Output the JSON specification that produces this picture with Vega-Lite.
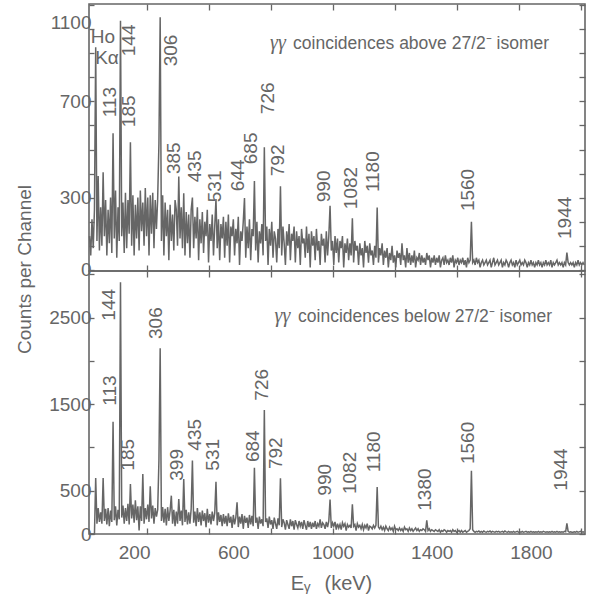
{
"$schema": "https://vega.github.io/schema/vega-lite/v6.json",
"background": "white",
"padding": {"left": 14, "top": 2, "right": 3, "bottom": 5},
"config": {
  "view": {"stroke": "#666666", "strokeWidth": 1.6},
  "font": "Liberation Sans",
  "axis": {"domain": false, "grid": false, "format": "d", "labelFont": "Liberation Sans", "labelFontSize": 19, "labelColor": "#666666", "tickColor": "#666666", "tickWidth": 1.3, "labelOverlap": false, "labelFlush": false, "titleColor": "#666666", "titleFont": "Liberation Sans", "titleFontWeight": "normal", "titleFontSize": 19}
},
"datasets": {
"s": [
{"e":20,"a":140,"b":0},{"e":25,"a":60,"b":0},{"e":30,"a":210,"b":0},{"e":35,"a":90,"b":0},{"e":40,"a":250,"b":0},{"e":45,"a":925,"b":647},{"e":50,"a":120,"b":120},{"e":55,"a":390,"b":300},{"e":60,"a":80,"b":140},{"e":65,"a":260,"b":250},
{"e":70,"a":100,"b":120},{"e":75,"a":405,"b":647},{"e":80,"a":140,"b":150},{"e":85,"a":290,"b":290},{"e":90,"a":60,"b":110},{"e":95,"a":250,"b":300},{"e":100,"a":110,"b":90},{"e":105,"a":300,"b":270},{"e":110,"a":70,"b":140},{"e":115,"a":568,"b":1298},
{"e":120,"a":130,"b":160},{"e":125,"a":330,"b":320},{"e":130,"a":50,"b":100},{"e":135,"a":260,"b":280},{"e":140,"a":120,"b":170},{"e":145,"a":1035,"b":2910},{"e":150,"a":140,"b":190},{"e":155,"a":280,"b":330},{"e":160,"a":70,"b":120},{"e":165,"a":320,"b":300},
{"e":170,"a":90,"b":150},{"e":175,"a":290,"b":350},{"e":180,"a":150,"b":110},{"e":185,"a":530,"b":578},{"e":190,"a":100,"b":180},{"e":195,"a":310,"b":340},{"e":200,"a":60,"b":130},{"e":205,"a":270,"b":390},{"e":210,"a":130,"b":160},{"e":215,"a":300,"b":320},
{"e":220,"a":80,"b":40},{"e":225,"a":330,"b":320},{"e":230,"a":160,"b":150},{"e":235,"a":280,"b":694},{"e":240,"a":100,"b":120},{"e":245,"a":340,"b":300},{"e":250,"a":140,"b":170},{"e":255,"a":300,"b":340},{"e":260,"a":60,"b":140},{"e":265,"a":310,"b":551},
{"e":270,"a":150,"b":180},{"e":275,"a":320,"b":330},{"e":280,"a":90,"b":120},{"e":285,"a":290,"b":300},{"e":290,"a":170,"b":200},{"e":295,"a":300,"b":280},{"e":300,"a":527,"b":855},{"e":305,"a":1050,"b":2147},{"e":310,"a":120,"b":150},{"e":315,"a":310,"b":310},
{"e":320,"a":60,"b":130},{"e":325,"a":280,"b":290},{"e":330,"a":140,"b":100},{"e":335,"a":250,"b":310},{"e":340,"a":40,"b":150},{"e":345,"a":270,"b":270},{"e":350,"a":120,"b":443},{"e":355,"a":230,"b":120},{"e":360,"a":80,"b":280},{"e":365,"a":290,"b":90},
{"e":370,"a":250,"b":260},{"e":375,"a":100,"b":120},{"e":380,"a":388,"b":405},{"e":385,"a":130,"b":150},{"e":390,"a":260,"b":270},{"e":395,"a":90,"b":100},{"e":400,"a":318,"b":636},{"e":405,"a":60,"b":140},{"e":410,"a":240,"b":280},{"e":415,"a":110,"b":110},
{"e":420,"a":230,"b":250},{"e":425,"a":50,"b":120},{"e":430,"a":250,"b":290},{"e":435,"a":300,"b":848},{"e":440,"a":90,"b":130},{"e":445,"a":220,"b":260},{"e":450,"a":130,"b":90},{"e":455,"a":260,"b":300},{"e":460,"a":40,"b":140},{"e":465,"a":210,"b":250},
{"e":470,"a":110,"b":100},{"e":475,"a":240,"b":270},{"e":480,"a":70,"b":150},{"e":485,"a":200,"b":240},{"e":490,"a":140,"b":80},{"e":495,"a":250,"b":290},{"e":500,"a":30,"b":130},{"e":505,"a":190,"b":230},{"e":510,"a":120,"b":110},{"e":515,"a":230,"b":260},
{"e":520,"a":60,"b":150},{"e":525,"a":180,"b":240},{"e":530,"a":294,"b":605},{"e":535,"a":90,"b":100},{"e":540,"a":210,"b":250},{"e":545,"a":40,"b":140},{"e":550,"a":190,"b":220},{"e":555,"a":130,"b":90},{"e":560,"a":220,"b":230},{"e":565,"a":50,"b":120},
{"e":570,"a":200,"b":210},{"e":575,"a":100,"b":90},{"e":580,"a":230,"b":240},{"e":585,"a":30,"b":130},{"e":590,"a":180,"b":200},{"e":595,"a":140,"b":70},{"e":600,"a":210,"b":220},{"e":605,"a":60,"b":110},{"e":610,"a":170,"b":190},{"e":615,"a":110,"b":366},
{"e":620,"a":220,"b":80},{"e":625,"a":20,"b":200},{"e":630,"a":160,"b":120},{"e":635,"a":120,"b":230},{"e":640,"a":200,"b":60},{"e":645,"a":298,"b":210},{"e":650,"a":50,"b":130},{"e":655,"a":180,"b":190},{"e":660,"a":90,"b":70},{"e":665,"a":210,"b":220},
{"e":670,"a":40,"b":110},{"e":675,"a":170,"b":210},{"e":680,"a":140,"b":90},{"e":685,"a":369,"b":767},{"e":690,"a":80,"b":130},{"e":695,"a":200,"b":190},{"e":700,"a":30,"b":60},{"e":705,"a":160,"b":200},{"e":710,"a":110,"b":120},{"e":715,"a":190,"b":170},
{"e":720,"a":60,"b":90},{"e":725,"a":509,"b":1434},{"e":730,"a":120,"b":140},{"e":735,"a":180,"b":180},{"e":740,"a":20,"b":70},{"e":745,"a":170,"b":200},{"e":750,"a":100,"b":110},{"e":755,"a":200,"b":160},{"e":760,"a":50,"b":60},{"e":765,"a":160,"b":190},
{"e":770,"a":130,"b":120},{"e":775,"a":30,"b":60},{"e":780,"a":170,"b":180},{"e":785,"a":90,"b":100},{"e":790,"a":347,"b":644},{"e":795,"a":60,"b":80},{"e":800,"a":180,"b":170},{"e":805,"a":110,"b":130},{"e":810,"a":20,"b":50},{"e":815,"a":160,"b":160},
{"e":820,"a":100,"b":110},{"e":825,"a":190,"b":60},{"e":830,"a":40,"b":170},{"e":835,"a":150,"b":90},{"e":840,"a":120,"b":150},{"e":845,"a":180,"b":50},{"e":850,"a":30,"b":160},{"e":855,"a":160,"b":110},{"e":860,"a":90,"b":70},{"e":865,"a":140,"b":150},
{"e":870,"a":20,"b":90},{"e":875,"a":170,"b":140},{"e":880,"a":110,"b":60},{"e":885,"a":130,"b":160},{"e":890,"a":50,"b":100},{"e":895,"a":180,"b":50},{"e":900,"a":70,"b":150},{"e":905,"a":150,"b":80},{"e":910,"a":10,"b":140},{"e":915,"a":160,"b":60},
{"e":920,"a":100,"b":130},{"e":925,"a":140,"b":80},{"e":930,"a":40,"b":150},{"e":935,"a":170,"b":60},{"e":940,"a":80,"b":120},{"e":945,"a":120,"b":90},{"e":950,"a":20,"b":170},{"e":955,"a":150,"b":70},{"e":960,"a":100,"b":130},{"e":965,"a":130,"b":110},
{"e":970,"a":30,"b":60},{"e":975,"a":160,"b":140},{"e":980,"a":60,"b":80},{"e":985,"a":140,"b":150},{"e":990,"a":266,"b":397},{"e":995,"a":80,"b":70},{"e":1000,"a":120,"b":130},{"e":1005,"a":20,"b":90},{"e":1010,"a":140,"b":140},{"e":1015,"a":70,"b":50},
{"e":1020,"a":130,"b":120},{"e":1025,"a":30,"b":70},{"e":1030,"a":120,"b":110},{"e":1035,"a":90,"b":50},{"e":1040,"a":140,"b":130},{"e":1045,"a":10,"b":90},{"e":1050,"a":110,"b":120},{"e":1055,"a":70,"b":40},{"e":1060,"a":130,"b":110},{"e":1065,"a":40,"b":80},
{"e":1070,"a":110,"b":100},{"e":1075,"a":60,"b":70},{"e":1080,"a":214,"b":343},{"e":1085,"a":30,"b":90},{"e":1090,"a":120,"b":110},{"e":1095,"a":80,"b":40},{"e":1100,"a":100,"b":120},{"e":1105,"a":20,"b":80},{"e":1110,"a":110,"b":100},{"e":1115,"a":60,"b":60},
{"e":1120,"a":90,"b":110},{"e":1125,"a":10,"b":50},{"e":1130,"a":120,"b":100},{"e":1135,"a":70,"b":70},{"e":1140,"a":100,"b":120},{"e":1145,"a":30,"b":40},{"e":1150,"a":110,"b":90},{"e":1155,"a":60,"b":80},{"e":1160,"a":80,"b":60},{"e":1165,"a":20,"b":100},
{"e":1170,"a":100,"b":70},{"e":1175,"a":50,"b":100},{"e":1180,"a":259,"b":543},{"e":1185,"a":30,"b":80},{"e":1190,"a":90,"b":60},{"e":1195,"a":60,"b":90},{"e":1200,"a":110,"b":50},{"e":1205,"a":20,"b":80},{"e":1210,"a":80,"b":40},{"e":1215,"a":50,"b":90},
{"e":1220,"a":90,"b":60},{"e":1225,"a":10,"b":40},{"e":1230,"a":70,"b":80},{"e":1235,"a":40,"b":50},{"e":1240,"a":100,"b":70},{"e":1245,"a":30,"b":30},{"e":1250,"a":60,"b":90},{"e":1255,"a":10,"b":50},{"e":1260,"a":80,"b":60},{"e":1265,"a":50,"b":40},
{"e":1270,"a":70,"b":70},{"e":1275,"a":20,"b":40},{"e":1280,"a":110,"b":60},{"e":1285,"a":40,"b":30},{"e":1290,"a":60,"b":80},{"e":1295,"a":10,"b":50},{"e":1300,"a":90,"b":60},{"e":1305,"a":30,"b":30},{"e":1310,"a":70,"b":70},{"e":1315,"a":20,"b":40},
{"e":1320,"a":60,"b":60},{"e":1325,"a":30,"b":30},{"e":1330,"a":80,"b":50},{"e":1335,"a":10,"b":70},{"e":1340,"a":50,"b":40},{"e":1345,"a":40,"b":60},{"e":1350,"a":70,"b":30},{"e":1355,"a":20,"b":50},{"e":1360,"a":60,"b":40},{"e":1365,"a":30,"b":60},
{"e":1370,"a":50,"b":50},{"e":1375,"a":20,"b":30},{"e":1380,"a":70,"b":158},{"e":1385,"a":40,"b":40},{"e":1390,"a":60,"b":60},{"e":1395,"a":10,"b":30},{"e":1400,"a":50,"b":50},{"e":1405,"a":30,"b":40},{"e":1410,"a":60,"b":30},{"e":1415,"a":20,"b":50},
{"e":1420,"a":50,"b":40},{"e":1425,"a":30,"b":30},{"e":1430,"a":60,"b":50},{"e":1435,"a":10,"b":20},{"e":1440,"a":40,"b":40},{"e":1445,"a":50,"b":30},{"e":1450,"a":20,"b":50},{"e":1455,"a":60,"b":40},{"e":1460,"a":30,"b":20},{"e":1465,"a":40,"b":40},
{"e":1470,"a":20,"b":30},{"e":1475,"a":50,"b":40},{"e":1480,"a":30,"b":20},{"e":1485,"a":60,"b":50},{"e":1490,"a":10,"b":30},{"e":1495,"a":40,"b":40},{"e":1500,"a":30,"b":20},{"e":1505,"a":50,"b":30},{"e":1510,"a":20,"b":40},{"e":1515,"a":40,"b":20},
{"e":1520,"a":30,"b":40},{"e":1525,"a":50,"b":20},{"e":1530,"a":20,"b":30},{"e":1535,"a":40,"b":40},{"e":1540,"a":10,"b":20},{"e":1545,"a":50,"b":30},{"e":1550,"a":30,"b":40},{"e":1555,"a":40,"b":60},{"e":1560,"a":200,"b":732},{"e":1565,"a":30,"b":50},
{"e":1570,"a":40,"b":30},{"e":1575,"a":20,"b":20},{"e":1580,"a":50,"b":30},{"e":1585,"a":30,"b":25},{"e":1590,"a":40,"b":35},{"e":1595,"a":10,"b":20},{"e":1600,"a":30,"b":30},{"e":1605,"a":40,"b":20},{"e":1610,"a":20,"b":35},{"e":1615,"a":30,"b":25},
{"e":1620,"a":40,"b":20},{"e":1625,"a":20,"b":30},{"e":1630,"a":30,"b":25},{"e":1635,"a":40,"b":35},{"e":1640,"a":10,"b":20},{"e":1645,"a":30,"b":30},{"e":1650,"a":50,"b":25},{"e":1655,"a":20,"b":20},{"e":1660,"a":30,"b":30},{"e":1665,"a":40,"b":25},
{"e":1670,"a":20,"b":30},{"e":1675,"a":30,"b":20},{"e":1680,"a":40,"b":25},{"e":1685,"a":10,"b":30},{"e":1690,"a":30,"b":20},{"e":1695,"a":20,"b":35},{"e":1700,"a":40,"b":25},{"e":1705,"a":30,"b":20},{"e":1710,"a":10,"b":30},{"e":1715,"a":30,"b":20},
{"e":1720,"a":40,"b":25},{"e":1725,"a":20,"b":20},{"e":1730,"a":30,"b":30},{"e":1735,"a":10,"b":20},{"e":1740,"a":40,"b":25},{"e":1745,"a":20,"b":30},{"e":1750,"a":30,"b":20},{"e":1755,"a":40,"b":25},{"e":1760,"a":20,"b":20},{"e":1765,"a":30,"b":30},
{"e":1770,"a":20,"b":20},{"e":1775,"a":40,"b":25},{"e":1780,"a":30,"b":30},{"e":1785,"a":10,"b":20},{"e":1790,"a":30,"b":25},{"e":1795,"a":20,"b":20},{"e":1800,"a":40,"b":30},{"e":1805,"a":20,"b":20},{"e":1810,"a":30,"b":25},{"e":1815,"a":10,"b":20},
{"e":1820,"a":30,"b":25},{"e":1825,"a":20,"b":20},{"e":1830,"a":40,"b":30},{"e":1835,"a":20,"b":20},{"e":1840,"a":30,"b":25},{"e":1845,"a":10,"b":20},{"e":1850,"a":30,"b":30},{"e":1855,"a":20,"b":25},{"e":1860,"a":40,"b":20},{"e":1865,"a":20,"b":25},
{"e":1870,"a":30,"b":20},{"e":1875,"a":20,"b":25},{"e":1880,"a":40,"b":20},{"e":1885,"a":10,"b":30},{"e":1890,"a":30,"b":20},{"e":1895,"a":20,"b":25},{"e":1900,"a":30,"b":20},{"e":1905,"a":40,"b":30},{"e":1910,"a":20,"b":20},{"e":1915,"a":30,"b":25},
{"e":1920,"a":20,"b":20},{"e":1925,"a":30,"b":25},{"e":1930,"a":10,"b":20},{"e":1935,"a":30,"b":30},{"e":1940,"a":20,"b":25},{"e":1945,"a":72,"b":124},{"e":1950,"a":30,"b":30},{"e":1955,"a":20,"b":20},{"e":1960,"a":30,"b":25},{"e":1965,"a":20,"b":20},
{"e":1970,"a":30,"b":20},{"e":1975,"a":10,"b":25},{"e":1980,"a":30,"b":20},{"e":1985,"a":20,"b":30},{"e":1990,"a":40,"b":20},{"e":1995,"a":20,"b":25},{"e":2000,"a":30,"b":30},{"e":2005,"a":20,"b":20},{"e":2010,"a":30,"b":25},{"e":2015,"a":20,"b":20}
],
"pt": [
{"e":102,"c":634,"t":"113"},{"e":180,"c":888,"t":"144"},{"e":179,"c":593,"t":"185"},{"e":350,"c":846,"t":"306"},{"e":360,"c":398,"t":"385"},{"e":445,"c":364,"t":"435"},{"e":526,"c":281,"t":"531"},{"e":617,"c":327,"t":"644"},{"e":671,"c":439,"t":"685"},{"e":738,"c":647,"t":"726"},{"e":781,"c":389,"t":"792"},{"e":966,"c":281,"t":"990"},{"e":1074,"c":252,"t":"1082"},{"e":1164,"c":323,"t":"1180"},{"e":1547,"c":244,"t":"1560"},{"e":1939,"c":128,"t":"1944"}
],
"pb": [
{"e":99,"c":2466,"t":"144"},{"e":290,"c":2254,"t":"306"},{"e":102,"c":1483,"t":"113"},{"e":176,"c":732,"t":"185"},{"e":371,"c":616,"t":"399"},{"e":445,"c":963,"t":"435"},{"e":519,"c":732,"t":"531"},{"e":680,"c":832,"t":"684"},{"e":714,"c":1541,"t":"726"},{"e":774,"c":751,"t":"792"},{"e":969,"c":443,"t":"990"},{"e":1070,"c":462,"t":"1082"},{"e":1168,"c":713,"t":"1180"},{"e":1373,"c":269,"t":"1380"},{"e":1547,"c":809,"t":"1560"},{"e":1923,"c":501,"t":"1944"}
],
"ht": [
{"e":25,"c":944,"t":"Ho"},{"e":43,"c":855,"t":"Kα"}
],
"gt": [{"e":748,"c":919,"t":"γγ"}],
"ct": [{"e":841,"c":919,"t":"coincidences above 27/2⁻ isomer"}],
"gb": [{"e":766,"c":2451,"t":"γγ"}],
"cb": [{"e":861,"c":2451,"t":"coincidences below 27/2⁻ isomer"}]
},
"bounds": "flush",
"spacing": 0,
"vconcat": [
{
 "width": 496, "height": 267,
 "resolve": {"axis": {"x": "independent", "y": "independent"}},
 "layer": [
  {"data": {"name": "s"},
   "mark": {"type": "line", "color": "#666666", "strokeWidth": 1.5},
   "encoding": {
    "x": {"field": "e", "type": "quantitative", "scale": {"domain": [18, 2018], "nice": false, "zero": false},
          "axis": {"orient": "bottom", "values": [250,500,750,1000,1250,1500,1750,2000], "labels": false, "tickSize": -6, "title": null}},
    "y": {"field": "a", "type": "quantitative", "scale": {"domain": [-5, 1105], "nice": false},
          "axis": {"orient": "left", "values": [0,100,200,300,400,500,600,700,800,900,1000,1100], "labelExpr": "indexof([0,300,700,1100], datum.value) >= 0 ? datum.label : ''", "tickSize": -5, "labelPadding": 3,
                   "labelOffset": {"condition": {"test": "datum.value === 1100", "value": 17}, "value": 0},
                   "title": "Counts per Channel", "titleX": -59, "titleY": 265, "titleAlign": "center", "titleBaseline": "alphabetic", "titleAngle": 270}}
   }},
  {"data": {"name": "pt"},
   "mark": {"type": "text", "angle": 270, "align": "left", "baseline": "middle", "fontSize": 19, "color": "#666666", "font": "Liberation Sans"},
   "encoding": {
    "x": {"field": "e", "type": "quantitative", "scale": {"domain": [18, 2018], "nice": false, "zero": false},
          "axis": {"orient": "top", "values": [250,500,750,1000,1250,1500,1750,2000], "labels": false, "tickSize": -6, "title": null}},
    "y": {"field": "c", "type": "quantitative", "scale": {"domain": [-5, 1105], "nice": false},
          "axis": {"orient": "right", "values": [0,100,200,300,400,500,600,700,800,900,1000,1100], "labels": false, "tickSize": -6, "title": null}},
    "text": {"field": "t"}
   }},
  {"data": {"name": "ht"},
   "mark": {"type": "text", "align": "left", "baseline": "alphabetic", "fontSize": 19, "color": "#666666", "font": "Liberation Sans"},
   "encoding": {
    "x": {"field": "e", "type": "quantitative", "scale": {"domain": [18, 2018], "nice": false, "zero": false}, "axis": null},
    "y": {"field": "c", "type": "quantitative", "scale": {"domain": [-5, 1105], "nice": false}, "axis": null},
    "text": {"field": "t"}
   }},
  {"data": {"name": "gt"},
   "mark": {"type": "text", "align": "left", "baseline": "alphabetic", "fontSize": 20, "fontStyle": "italic", "color": "#666666", "font": "Liberation Serif"},
   "encoding": {
    "x": {"field": "e", "type": "quantitative", "scale": {"domain": [18, 2018], "nice": false, "zero": false}, "axis": null},
    "y": {"field": "c", "type": "quantitative", "scale": {"domain": [-5, 1105], "nice": false}, "axis": null},
    "text": {"field": "t"}
   }},
  {"data": {"name": "ct"},
   "mark": {"type": "text", "align": "left", "baseline": "alphabetic", "fontSize": 17.5, "color": "#666666", "font": "Liberation Sans"},
   "encoding": {
    "x": {"field": "e", "type": "quantitative", "scale": {"domain": [18, 2018], "nice": false, "zero": false}, "axis": null},
    "y": {"field": "c", "type": "quantitative", "scale": {"domain": [-5, 1105], "nice": false}, "axis": null},
    "text": {"field": "t"}
   }}
 ]
},
{
 "width": 496, "height": 263,
 "resolve": {"axis": {"x": "independent", "y": "independent"}},
 "layer": [
  {"data": {"name": "s"},
   "mark": {"type": "line", "color": "#666666", "strokeWidth": 1.5},
   "encoding": {
    "x": {"field": "e", "type": "quantitative", "scale": {"domain": [18, 2018], "nice": false, "zero": false},
          "axis": {"orient": "bottom", "values": [200,250,500,600,750,1000,1250,1400,1500,1750,1800,2000],
                   "labelExpr": "datum.value % 400 === 200 ? datum.label : ''",
                   "tickOpacity": {"condition": {"test": "datum.value % 250 === 0", "value": 1}, "value": 0},
                   "tickSize": -6, "labelPadding": 15,
                   "title": "Eᵧ\u2002\u2009(keV)", "titleFontSize": 20, "titleX": 242, "titleY": 55, "titleAlign": "center", "titleBaseline": "alphabetic"}},
    "y": {"field": "b", "type": "quantitative", "scale": {"domain": [0, 3040], "nice": false},
          "axis": {"orient": "left", "values": [0,500,1000,1500,2000,2500,3000], "labelExpr": "indexof([0,500,1500,2500], datum.value) >= 0 ? datum.label : ''", "tickSize": -5, "labelPadding": 3, "title": null}}
   }},
  {"data": {"name": "pb"},
   "mark": {"type": "text", "angle": 270, "align": "left", "baseline": "middle", "fontSize": 19, "color": "#666666", "font": "Liberation Sans"},
   "encoding": {
    "x": {"field": "e", "type": "quantitative", "scale": {"domain": [18, 2018], "nice": false, "zero": false},
          "axis": {"orient": "top", "values": [250,500,750,1000,1250,1500,1750,2000], "labels": false, "tickSize": -6, "title": null}},
    "y": {"field": "c", "type": "quantitative", "scale": {"domain": [0, 3040], "nice": false},
          "axis": {"orient": "right", "values": [0,500,1000,1500,2000,2500,3000], "labels": false, "tickSize": -6, "title": null}},
    "text": {"field": "t"}
   }},
  {"data": {"name": "gb"},
   "mark": {"type": "text", "align": "left", "baseline": "alphabetic", "fontSize": 20, "fontStyle": "italic", "color": "#666666", "font": "Liberation Serif"},
   "encoding": {
    "x": {"field": "e", "type": "quantitative", "scale": {"domain": [18, 2018], "nice": false, "zero": false}, "axis": null},
    "y": {"field": "c", "type": "quantitative", "scale": {"domain": [0, 3040], "nice": false}, "axis": null},
    "text": {"field": "t"}
   }},
  {"data": {"name": "cb"},
   "mark": {"type": "text", "align": "left", "baseline": "alphabetic", "fontSize": 17.5, "color": "#666666", "font": "Liberation Sans"},
   "encoding": {
    "x": {"field": "e", "type": "quantitative", "scale": {"domain": [18, 2018], "nice": false, "zero": false}, "axis": null},
    "y": {"field": "c", "type": "quantitative", "scale": {"domain": [0, 3040], "nice": false}, "axis": null},
    "text": {"field": "t"}
   }}
 ]
}
]
}
